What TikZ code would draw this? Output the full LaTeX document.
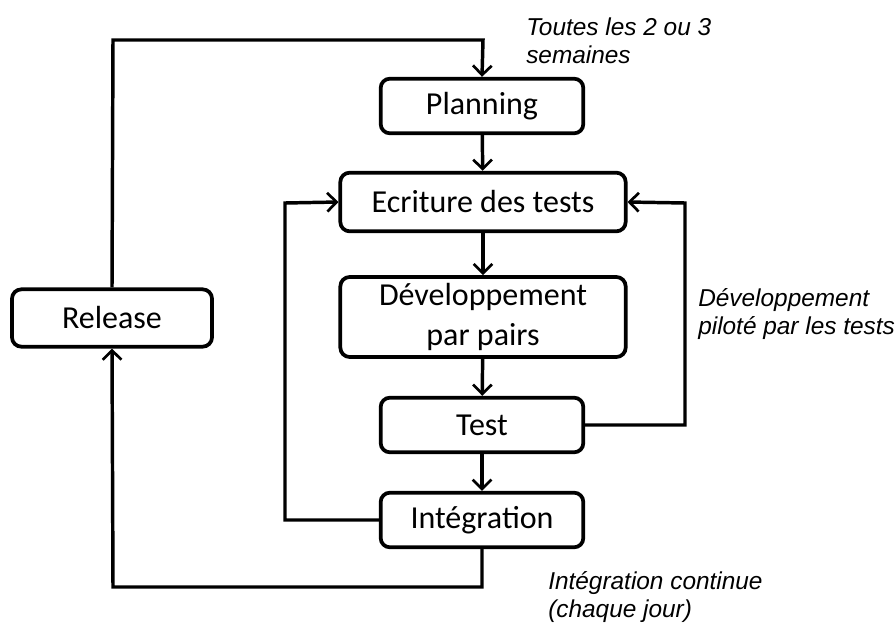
\documentclass[tikz,border=0pt]{standalone}
\usepackage{fontspec}
\setmainfont{Carlito}
\newfontfamily\labfont{Liberation Sans}
\usetikzlibrary{arrows.meta}
\begin{document}
\begin{tikzpicture}[x=0.75pt,y=-0.75pt,
  box/.style={draw, line width=2.8pt, rounded corners=7pt, align=center,
    font=\fontsize{24}{29.5}\selectfont, inner sep=0pt},
  conn/.style={line width=2.6pt, -{Straight Barb[length=7pt,width=14pt,line width=2pt]}},
  lab/.style={font=\labfont\itshape\fontsize{18.3}{21}\selectfont, align=left, anchor=base west, inner sep=0pt}]
\useasboundingbox (0,0) rectangle (896,628);
\node[box, minimum width=152pt, minimum height=41pt] (plan) at (482,106) {Planning};
\node[box, minimum width=214pt, minimum height=44pt] (ecr) at (483,202) {Ecriture des tests};
\node[box, minimum width=214pt, minimum height=60pt] (dev) at (483,317) {Développement\\par pairs};
\node[box, minimum width=152pt, minimum height=41pt] (test) at (482,425) {Test};
\node[box, minimum width=152pt, minimum height=41pt] (integ) at (482,520) {Intégration};
\node[box, minimum width=150pt, minimum height=43pt] (rel) at (112,318) {Release};
\coordinate (tl) at (113,40);
\coordinate (tr) at (483,40);
\coordinate (ll) at (285,520);
\coordinate (lt) at (285,203);
\coordinate (rr) at (685,425);
\coordinate (rt) at (685,203);
\coordinate (br) at (482,587);
\coordinate (bl) at (113,587);
\draw[conn] (plan) -- (ecr);
\draw[conn] (ecr) -- (dev);
\draw[conn] (dev) -- (test);
\draw[conn] (test) -- (integ);
\draw[conn] (rel.north) -- (tl) -- (tr) -- (plan.north);
\draw[conn] (integ.west) -- (ll) -- (lt) -- (ecr.west);
\draw[conn] (test.east) -- (rr) -- (rt) -- (ecr.east);
\draw[conn] (integ.south) -- (br) -- (bl) -- (rel.south);
\node[lab] (l1) at (526,63) {Toutes les 2 ou 3\\semaines};
\node[lab] (l2) at (698,334) {Développement\\piloté par les tests};
\node[lab] (l3) at (548,617) {Intégration continue\\(chaque jour)};
\end{tikzpicture}
\end{document}
